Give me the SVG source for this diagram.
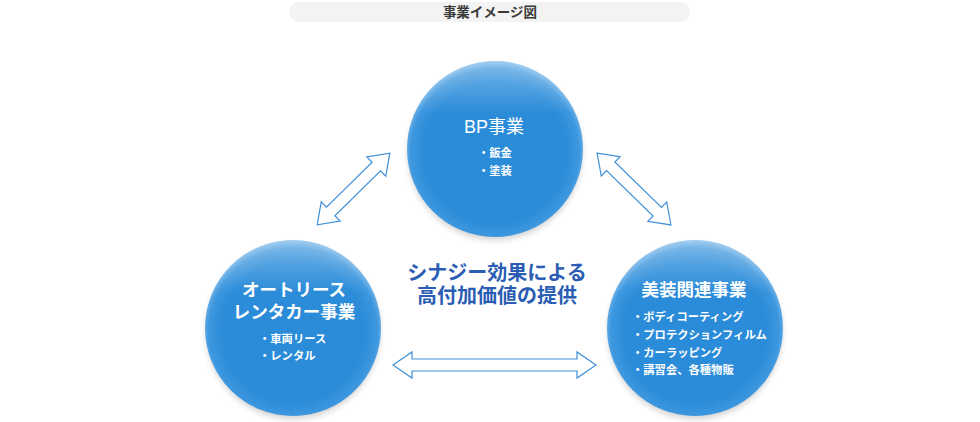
<svg xmlns="http://www.w3.org/2000/svg" width="980" height="422" viewBox="0 0 980 422">
<style>
  text { font-family: "Liberation Sans", "Noto Sans CJK JP", sans-serif; }
  .title { font-size: 13.5px; font-weight: bold; fill: #3a3a3a; text-anchor: middle; }
  .head { font-size: 17.5px; font-weight: bold; fill: #ffffff; text-anchor: middle; }
  .bp { font-size: 18px; fill: #ffffff; text-anchor: middle; }
  .item { font-size: 11.3px; font-weight: bold; fill: #ffffff; }
  .center { font-size: 20px; font-weight: bold; fill: #2a5db3; text-anchor: middle; }
  .arrow { fill: #ffffff; stroke: #3f90d8; stroke-width: 1.2; stroke-linejoin: miter; }
  .ball { fill: url(#ballGrad); }
  .gloss { fill: url(#glossGrad); }
  .shadow { fill: #000000; opacity: 0.18; filter: url(#blur); }
</style>
<defs>
  <radialGradient id="ballGrad" cx="0.5" cy="0.52" r="0.52">
    <stop offset="0" stop-color="#2a8bd8"/>
    <stop offset="0.78" stop-color="#2b8cd9"/>
    <stop offset="0.92" stop-color="#3d97de"/>
    <stop offset="1" stop-color="#74b5e9"/>
  </radialGradient>
  <linearGradient id="glossGrad" x1="0" y1="0" x2="0" y2="1">
    <stop offset="0" stop-color="#ffffff" stop-opacity="0.35"/>
    <stop offset="0.3" stop-color="#ffffff" stop-opacity="0"/>
    <stop offset="1" stop-color="#ffffff" stop-opacity="0"/>
  </linearGradient>
  <filter id="blur" x="-20%" y="-20%" width="140%" height="140%">
    <feGaussianBlur stdDeviation="3"/>
  </filter>
</defs>

<g id="title">
  <rect x="289" y="2" width="401" height="20" rx="10" fill="#f3f3f3"/>
  <text class="title" x="490" y="17">事業イメージ図</text>
</g>

<g id="connectors">
  <polygon class="arrow" transform="translate(353.5,189) rotate(-44.6)" points="-51,0 -32,-13.5 -32,-6 32,-6 32,-13.5 51,0 32,13.5 32,6 -32,6 -32,13.5"/>
  <polygon class="arrow" transform="translate(634,189) rotate(44.2)" points="-51.5,0 -32.5,-13.5 -32.5,-6 32.5,-6 32.5,-13.5 51.5,0 32.5,13.5 32.5,6 -32.5,6 -32.5,13.5"/>
  <polygon class="arrow" transform="translate(494.5,365)" points="-101.5,0 -82.5,-13 -82.5,-6 82.5,-6 82.5,-13 101.5,0 82.5,13 82.5,6 -82.5,6 -82.5,13"/>
</g>

<g id="node-bp">
  <ellipse class="shadow" cx="495" cy="153" rx="87" ry="87"/>
  <circle class="ball" cx="495" cy="149" r="88"/>
  <circle class="gloss" cx="495" cy="149" r="88"/>
  <text class="bp" x="494" y="133">BP事業</text>
  <text class="item" x="478" y="157">・鈑金</text>
  <text class="item" x="478" y="175">・塗装</text>
</g>

<g id="node-rental">
  <ellipse class="shadow" cx="293" cy="332" rx="87" ry="87"/>
  <circle class="ball" cx="293" cy="328" r="88"/>
  <circle class="gloss" cx="293" cy="328" r="88"/>
  <text class="head" x="294" y="296">オートリース</text>
  <text class="head" x="294" y="318">レンタカー事業</text>
  <text class="item" x="259" y="343">・車両リース</text>
  <text class="item" x="259" y="360">・レンタル</text>
</g>

<g id="node-beauty">
  <ellipse class="shadow" cx="695" cy="332" rx="87" ry="87"/>
  <circle class="ball" cx="695" cy="328" r="88"/>
  <circle class="gloss" cx="695" cy="328" r="88"/>
  <text class="head" x="694" y="296">美装関連事業</text>
  <text class="item" x="632" y="321">・ボディコーティング</text>
  <text class="item" x="632" y="339">・プロテクションフィルム</text>
  <text class="item" x="632" y="357">・カーラッピング</text>
  <text class="item" x="632" y="374">・講習会、各種物販</text>
</g>

<g id="synergy">
  <text class="center" x="497" y="280">シナジー効果による</text>
  <text class="center" x="497" y="303">高付加価値の提供</text>
</g>
</svg>
